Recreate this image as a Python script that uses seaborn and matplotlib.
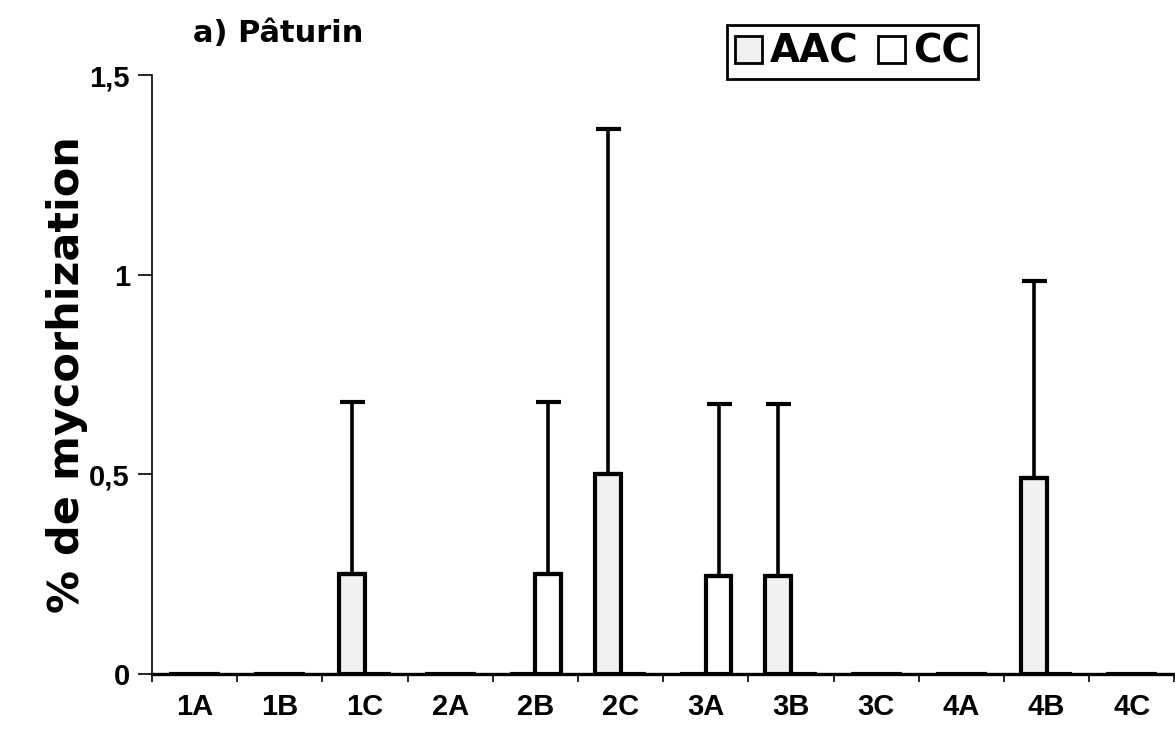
import matplotlib
matplotlib.use("Agg")
import matplotlib.pyplot as plt
from matplotlib.patches import Patch
import pandas as pd
import seaborn as sns

# values
sites = ["1A", "1B", "1C", "2A", "2B", "2C", "3A", "3B", "3C", "4A", "4B", "4C"]
aac_mean = [0, 0, 0.25, 0, 0, 0.50, 0, 0.245, 0, 0, 0.49, 0]
aac_err = [0, 0, 0.43, 0, 0, 0.865, 0, 0.43, 0, 0, 0.495, 0]
cc_mean = [0, 0, 0, 0, 0.25, 0, 0.245, 0, 0, 0, 0, 0]
cc_err = [0, 0, 0, 0, 0.43, 0, 0.43, 0, 0, 0, 0, 0]
treatments = ["AAC", "CC"]
y_ticks = [0, 0.5, 1, 1.5]
y_tick_labels = ["0", "0,5", "1", "1,5"]

colors = {"AAC": "#f0f0f0", "CC": "#ffffff"}

df = pd.DataFrame({
    "site": sites * 2,
    "treatment": ["AAC"] * len(sites) + ["CC"] * len(sites),
    "value": aac_mean + cc_mean,
    "err": aac_err + cc_err,
})

sns.set_style("ticks", {"axes.edgecolor": "black", "text.color": "black",
                        "axes.labelcolor": "black", "xtick.color": "black",
                        "ytick.color": "black"})
plt.rcParams["font.family"] = ["Liberation Sans", "DejaVu Sans"]
heavy = ["DejaVu Sans"]

fig = plt.figure(figsize=(11.75, 7.4), dpi=100)
ax = fig.add_axes([0.1294, 0.0892, 0.8700, 0.8094])

sns.barplot(data=df, x="site", y="value", hue="treatment", order=sites,
            hue_order=treatments, palette=colors, width=0.6, errorbar=None,
            edgecolor="black", linewidth=3, legend=False, ax=ax)

# upper error bars only, placed on the bars seaborn drew
for cont, t in zip(ax.containers, treatments):
    errs = df.loc[df["treatment"] == t, "err"].tolist()
    for bar, e in zip(cont, errs):
        if e <= 0:
            continue
        xc = bar.get_x() + bar.get_width() / 2
        ax.errorbar(xc, bar.get_height(), yerr=[[0], [e]], fmt="none",
                    ecolor="black", elinewidth=2.6, capsize=9, capthick=3)

ax.set_xlim(-0.5, len(sites) - 0.5)
ax.set_ylim(0, 1.5)
ax.set_yticks(y_ticks)
ax.set_yticklabels(y_tick_labels, fontsize=21, fontweight="bold")
ax.set_xticks(range(len(sites)))
ax.set_xticklabels(sites, fontsize=21, fontweight="bold")
ax.set_xticks([i - 0.5 for i in range(len(sites) + 1)], minor=True)
ax.tick_params(axis="x", which="major", length=0, pad=14)
ax.tick_params(axis="x", which="minor", length=6, width=1.2, direction="out")
ax.tick_params(axis="y", length=10, width=1.2, direction="out", pad=6)
ax.set_xlabel("")
ax.set_ylabel("% de mycorhization", fontsize=31, fontweight="bold", family=heavy)
ax.yaxis.set_label_coords(-0.063, 0.5)

sns.despine(ax=ax)
ax.spines["left"].set_linewidth(1.2)
ax.spines["bottom"].set_linewidth(2.4)

fig.text(0.164, 0.943, "a) Pâturin", fontsize=22, fontweight="bold",
         family=heavy, va="baseline")

handles = [Patch(facecolor=colors[t], edgecolor="black", linewidth=2, label=t)
           for t in treatments]
leg = fig.legend(handles=handles, loc="upper right", bbox_to_anchor=(0.832, 0.966),
                 ncol=2, frameon=True, fancybox=False, framealpha=1,
                 prop={"family": heavy, "size": 28, "weight": "bold"},
                 edgecolor="black", handlelength=0.7, handleheight=0.7,
                 handletextpad=0.2, columnspacing=0.5, borderpad=0.2,
                 borderaxespad=0)
leg.get_frame().set_linewidth(2)

fig.savefig("out.png", dpi=100)
plt.close(fig)
